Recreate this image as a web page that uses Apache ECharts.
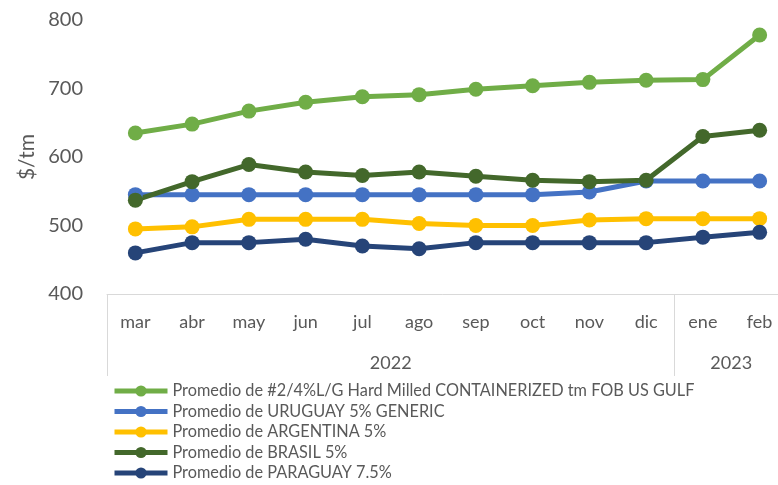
<!DOCTYPE html>
<html>
<head>
<meta charset="utf-8">
<script src="https://cdn.jsdelivr.net/npm/echarts@6/dist/echarts.min.js"></script>
<style>html,body{margin:0;padding:0;background:#fff}#c{width:778px;height:485px}</style>
</head>
<body>
<div id="c"></div>
<script>
const months = ['mar','abr','may','jun','jul','ago','sep','oct','nov','dic','ene','feb'];
const yearLabels = {4.5: '2022', 10.5: '2023'};
const yearStarts = [0, 10];
const yTicks = [400, 500, 600, 700, 800];

const seriesNames = [
  'Promedio de #2/4%L/G Hard Milled CONTAINERIZED tm FOB US GULF',
  'Promedio de URUGUAY 5% GENERIC',
  'Promedio de ARGENTINA 5%',
  'Promedio de BRASIL 5%',
  'Promedio de PARAGUAY 7.5%'
];
const usGulf   = [635, 648, 667, 680, 688, 691, 699, 704, 709, 712, 713, 778];
const uruguay  = [545, 545, 545, 545, 545, 545, 545, 545, 549, 565, 565, 565];
const argentina= [495, 498, 509, 509, 509, 503, 500, 500, 508, 510, 510, 510];
const brasil   = [537, 564, 589, 578, 573, 578, 572, 566, 564, 566, 630, 639];
const paraguay = [460, 475, 475, 480, 470, 466, 475, 475, 475, 475, 483, 490];
const colors = ['#70AD47', '#4472C4', '#FFC000', '#43682B', '#264478'];

const FONT = 'Lato, "Open Sans", sans-serif';
const TXT = '#595959';
const data = [usGulf, uruguay, argentina, brasil, paraguay];

const chart = echarts.init(document.getElementById('c'), null, {renderer: 'canvas'});
chart.setOption({
  animation: false,
  backgroundColor: '#fff',
  textStyle: {fontFamily: FONT},
  grid: {left: 107, width: 681, top: 20, height: 274, containLabel: false, outerBoundsMode: 'none'},
  legend: {
    orient: 'vertical', left: 112, top: 383, height: 110, padding: 0,
    itemWidth: 53, itemHeight: 14, itemGap: 4.5,
    lineStyle: {width: 5},
    textStyle: {color: TXT, fontSize: 16.3, fontFamily: FONT},
    data: seriesNames
  },
  xAxis: [{
    type: 'category', data: months, boundaryGap: true,
    axisLine: {lineStyle: {color: '#D9D9D9', width: 1}},
    axisTick: {show: true, length: 82, lineStyle: {color: '#D9D9D9'},
      interval: (i) => yearStarts.includes(i)},
    axisLabel: {color: TXT, fontSize: 18, margin: 19, fontFamily: FONT, interval: 0}
  }, {
    type: 'value', min: -0.5, max: 11.5, interval: 0.5, position: 'bottom',
    axisLine: {show: false}, axisTick: {show: false}, splitLine: {show: false},
    axisLabel: {color: TXT, fontSize: 18, margin: 60, fontFamily: FONT,
      showMinLabel: true, showMaxLabel: true, hideOverlap: false,
      formatter: (v) => yearLabels[v] || ''}
  }],
  yAxis: {
    type: 'value', min: yTicks[0], max: yTicks[yTicks.length - 1], interval: 100,
    name: '$/tm', nameLocation: 'middle', nameGap: 62, nameRotate: 90,
    nameTextStyle: {color: TXT, fontSize: 21, fontFamily: FONT},
    axisLine: {show: false}, axisTick: {show: false}, splitLine: {show: false},
    axisLabel: {color: TXT, fontSize: 20, margin: 24, fontFamily: FONT}
  },
  series: seriesNames.map((n, i) => ({
    name: n, type: 'line', data: data[i], xAxisIndex: 0,
    symbol: 'circle', symbolSize: 15, showSymbol: true,
    lineStyle: {color: colors[i], width: 5},
    itemStyle: {color: colors[i]},
    emphasis: {disabled: true}
  }))
});
</script>
</body>
</html>
